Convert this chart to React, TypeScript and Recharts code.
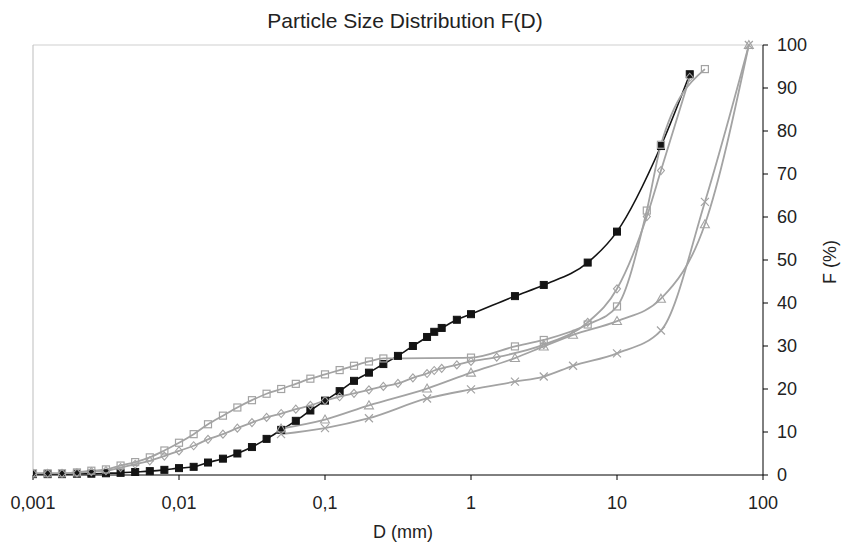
import { LineChart, Line, XAxis, YAxis, ReferenceLine } from 'recharts'

// particle size D (mm) and cumulative passing F (%)
const blackD = [0.001, 0.00126, 0.00158, 0.002, 0.00251, 0.00316, 0.00398, 0.00501, 0.00631, 0.00794, 0.01, 0.0126, 0.0158, 0.02, 0.0251, 0.0316, 0.0398, 0.0501, 0.0631, 0.0794, 0.1, 0.126, 0.158, 0.2, 0.251, 0.316, 0.4, 0.5, 0.56, 0.63, 0.8, 1, 2, 3.15, 6.3, 10, 20, 31.5]
const blackF = [0.2, 0.2, 0.2, 0.3, 0.3, 0.4, 0.5, 0.7, 0.9, 1.2, 1.6, 1.9, 2.9, 3.8, 5.0, 6.5, 8.4, 10.5, 12.6, 15.0, 17.3, 19.5, 21.9, 23.8, 25.8, 27.7, 30.0, 32.1, 33.3, 34.2, 36.1, 37.4, 41.6, 44.2, 49.4, 56.6, 76.5, 93.2]

const squareD = [0.001, 0.00126, 0.00158, 0.002, 0.00251, 0.00316, 0.00398, 0.00501, 0.00631, 0.00794, 0.01, 0.0126, 0.0158, 0.02, 0.0251, 0.0316, 0.0398, 0.0501, 0.0631, 0.0794, 0.1, 0.126, 0.158, 0.2, 0.251, 1, 2, 3.15, 6.3, 10, 16, 20, 40]
const squareF = [0.4, 0.4, 0.4, 0.6, 1.0, 1.3, 2.2, 3.0, 4.1, 5.7, 7.5, 9.5, 11.8, 13.8, 15.7, 17.4, 18.9, 20.0, 21.2, 22.4, 23.4, 24.4, 25.4, 26.4, 27.1, 27.3, 29.9, 31.4, 35.0, 39.2, 61.5, 76.8, 94.4]

const diamondD = [0.001, 0.00126, 0.00158, 0.002, 0.00251, 0.00316, 0.00398, 0.00501, 0.00631, 0.00794, 0.01, 0.0126, 0.0158, 0.02, 0.0251, 0.0316, 0.0398, 0.0501, 0.0631, 0.0794, 0.1, 0.126, 0.158, 0.2, 0.251, 0.316, 0.4, 0.5, 0.56, 0.63, 0.8, 1, 1.5, 3.15, 6.3, 10, 16, 20, 31.5]
const diamondF = [0.4, 0.4, 0.4, 0.5, 0.8, 1.0, 1.7, 2.5, 3.3, 4.4, 5.6, 6.8, 8.3, 9.5, 10.9, 12.2, 13.4, 14.3, 15.3, 16.2, 17.3, 18.2, 19.0, 19.8, 20.6, 21.3, 22.6, 23.6, 24.3, 24.8, 25.6, 26.4, 27.4, 30.3, 35.5, 43.3, 60.1, 70.8, 92.5]

const coarseD = [0.05, 0.1, 0.2, 0.5, 1, 2, 3.15, 5, 10, 20, 40, 80]
const triangleF = [10.8, 12.9, 16.2, 20.1, 23.8, 27.2, 29.9, 32.6, 35.8, 41.0, 58.3, 100]
const crossF = [9.5, 10.9, 13.2, 17.8, 19.9, 21.7, 22.9, 25.4, 28.3, 33.6, 63.5, 100]

const xTicks = [0.001, 0.01, 0.1, 1, 10, 100]
const yTicks = [0, 10, 20, 30, 40, 50, 60, 70, 80, 90, 100]

const toRows = (d: number[], f: number[]) => d.map((v, i) => ({ d: v, f: f[i] }))

const FONT = 'Liberation Sans, Arial, sans-serif'
const GRAY = '#a3a3a3'
const BLACK = '#141414'

type Marker = 'fsquare' | 'square' | 'diamond' | 'triangle' | 'cross'

function dotFor(kind: Marker, color: string) {
  return (p: any) => {
    const { cx, cy, index } = p
    const key = `${kind}-${index}`
    if (cx == null || cy == null) return <g key={key} />
    if (kind === 'fsquare')
      return <rect key={key} x={cx - 3.5} y={cy - 3.5} width={7} height={7} fill={color} stroke={color} />
    if (kind === 'square')
      return <rect key={key} x={cx - 3.5} y={cy - 3.5} width={7} height={7} fill="none" stroke={color} strokeWidth={1.2} />
    if (kind === 'diamond')
      return <path key={key} d={`M${cx},${cy - 4}L${cx + 3.5},${cy}L${cx},${cy + 4}L${cx - 3.5},${cy}Z`} fill="none" stroke={color} strokeWidth={1.1} />
    if (kind === 'triangle')
      return <path key={key} d={`M${cx},${cy - 4.5}L${cx + 4.5},${cy + 3.5}L${cx - 4.5},${cy + 3.5}Z`} fill="none" stroke={color} strokeWidth={1.1} />
    return <path key={key} d={`M${cx - 4},${cy - 4}L${cx + 4},${cy + 4}M${cx + 4},${cy - 4}L${cx - 4},${cy + 4}`} stroke={color} strokeWidth={1.2} />
  }
}

const fmtX = (v: number) => String(v).replace('.', ',')

export default function App() {
  return (
    <div style={{ position: 'absolute', left: 0, top: 0, width: 851, height: 544, background: '#fff' }}>
      <LineChart
        width={851}
        height={544}
        margin={{ top: 45, right: 28, bottom: 9, left: 33 }}
      >
        <XAxis
          dataKey="d"
          type="number"
          scale="log"
          domain={[0.001, 100]}
          ticks={xTicks}
          allowDataOverflow
          height={60}
          tickFormatter={fmtX}
          tickSize={5}
          tickMargin={16}
          axisLine={{ stroke: '#000' }}
          tickLine={{ stroke: '#000' }}
          tick={{ fill: '#222', fontSize: 18, fontFamily: FONT }}
        />
        <YAxis
          orientation="right"
          type="number"
          domain={[0, 100]}
          ticks={yTicks}
          width={60}
          tickSize={5}
          tickMargin={9}
          axisLine={{ stroke: '#000' }}
          tickLine={{ stroke: '#000' }}
          tick={{ fill: '#222', fontSize: 18, fontFamily: FONT, textAnchor: 'start' }}
        />
        <ReferenceLine y={100} stroke="#cfcfcf" />
        <ReferenceLine x={0.001} stroke="#bdbdbd" />

        <Line data={toRows(blackD, blackF)} dataKey="f" type="monotone" stroke={BLACK} strokeWidth={1.6}
          dot={dotFor('fsquare', BLACK)} isAnimationActive={false} />
        <Line data={toRows(squareD, squareF)} dataKey="f" type="monotone" stroke={GRAY} strokeWidth={1.8}
          dot={dotFor('square', GRAY)} isAnimationActive={false} />
        <Line data={toRows(diamondD, diamondF)} dataKey="f" type="monotone" stroke={GRAY} strokeWidth={1.8}
          dot={dotFor('diamond', GRAY)} isAnimationActive={false} />
        <Line data={toRows(coarseD, triangleF)} dataKey="f" type="monotone" stroke={GRAY} strokeWidth={1.8}
          dot={dotFor('triangle', GRAY)} isAnimationActive={false} />
        <Line data={toRows(coarseD, crossF)} dataKey="f" type="monotone" stroke={GRAY} strokeWidth={1.8}
          dot={dotFor('cross', GRAY)} isAnimationActive={false} />
      </LineChart>

      <svg width={851} height={544} style={{ position: 'absolute', left: 0, top: 0, pointerEvents: 'none' }}>
        <text x={405} y={28} textAnchor="middle" fontSize={21} fontFamily={FONT} fill="#222">
          Particle Size Distribution F(D)
        </text>
        <text x={403} y={538} textAnchor="middle" fontSize={18} fontFamily={FONT} fill="#222">
          D (mm)
        </text>
        <text x={836} y={262} textAnchor="middle" fontSize={18} fontFamily={FONT} fill="#222"
          transform="rotate(-90 836 262)">
          F (%)
        </text>
      </svg>
    </div>
  )
}
